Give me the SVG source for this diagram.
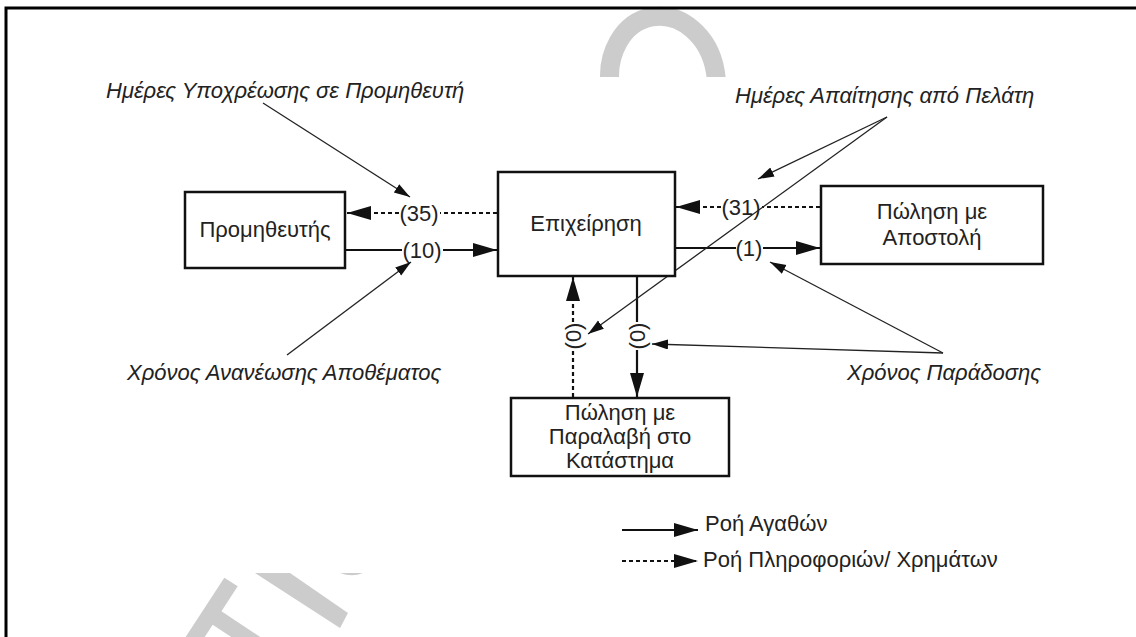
<svg xmlns="http://www.w3.org/2000/svg" width="1136" height="637" viewBox="0 0 1136 637">
<defs>
<style>
.box{fill:#fff;stroke:#111;stroke-width:2.5}
.lbl{font-family:"Liberation Sans",Arial,sans-serif;font-size:22px;fill:#222}
.it{font-style:italic}
.solid{stroke:#111;stroke-width:2.2;fill:none}
.dash{stroke:#111;stroke-width:2.2;fill:none;stroke-dasharray:4 3}
.note{stroke:#222;stroke-width:1.3;fill:none}
.wm{fill:#cccccc;stroke:none}
</style>
<marker id="big" markerUnits="userSpaceOnUse" markerWidth="24" markerHeight="16" refX="24" refY="7" orient="auto">
<path d="M0,0 L24,7 L0,14 z" fill="#111"/>
</marker>
<marker id="small" markerUnits="userSpaceOnUse" markerWidth="17" markerHeight="12" refX="16" refY="5" orient="auto">
<path d="M0,0 L16,5 L0,10 z" fill="#111"/>
</marker>
<clipPath id="topclip"><rect x="0" y="0" width="1136" height="77"/></clipPath>
</defs>
<rect width="1136" height="637" fill="#fff"/>
<g id="watermark">
<g clip-path="url(#topclip)">
<ellipse cx="663" cy="80" rx="53" ry="64" fill="none" stroke="#cccccc" stroke-width="19" transform="rotate(-10 663 80)"/>
</g>
<line x1="231" y1="582" x2="188" y2="648" stroke="#cccccc" stroke-width="16"/>
<line x1="214" y1="616" x2="270" y2="653" stroke="#cccccc" stroke-width="16"/>
<polygon class="wm" points="255,573 290,573 348,613 340,628"/>
<path class="wm" d="M340,573 L363,573 Q352,577.5 340,573 Z"/>
</g>
<path d="M6,645 L6,8 L1140,8" fill="none" stroke="#000" stroke-width="3"/>
<g id="connectors">
<line class="dash" x1="497" y1="213" x2="440" y2="213"/>
<line class="dash" x1="399" y1="213" x2="347" y2="213" marker-end="url(#big)"/>
<text class="lbl" x="419" y="221" text-anchor="middle">(35)</text>
<line class="solid" x1="346" y1="250" x2="402" y2="250"/>
<line class="solid" x1="443" y1="250" x2="497" y2="250" marker-end="url(#big)"/>
<text class="lbl" x="422" y="258" text-anchor="middle">(10)</text>
<line class="dash" x1="820" y1="207" x2="762" y2="207"/>
<line class="dash" x1="721" y1="207" x2="676" y2="207" marker-end="url(#big)"/>
<text class="lbl" x="741" y="215" text-anchor="middle">(31)</text>
<line class="solid" x1="676" y1="248" x2="736" y2="248"/>
<line class="solid" x1="763" y1="248" x2="820" y2="248" marker-end="url(#big)"/>
<text class="lbl" x="749" y="256" text-anchor="middle">(1)</text>
<line class="dash" x1="573" y1="397" x2="573" y2="350"/>
<line class="dash" x1="573" y1="322" x2="573" y2="277" marker-end="url(#big)"/>
<text class="lbl" x="0" y="0" text-anchor="middle" dominant-baseline="central" transform="translate(573 336) rotate(-90)">(0)</text>
<line class="solid" x1="637" y1="273" x2="637" y2="322"/>
<line class="solid" x1="637" y1="350" x2="637" y2="397" marker-end="url(#big)"/>
<text class="lbl" x="0" y="0" text-anchor="middle" dominant-baseline="central" transform="translate(637 336) rotate(-90)">(0)</text>
<line class="note" x1="263" y1="103" x2="410" y2="197" marker-end="url(#small)"/>
<line class="note" x1="287" y1="355" x2="411" y2="262" marker-end="url(#small)"/>
<line class="note" x1="887" y1="117" x2="758" y2="179" marker-end="url(#small)"/>
<line class="note" x1="887" y1="117" x2="588" y2="334" marker-end="url(#small)"/>
<line class="note" x1="943" y1="353" x2="770" y2="262" marker-end="url(#small)"/>
<line class="note" x1="943" y1="353" x2="652" y2="344" marker-end="url(#small)"/>
</g>
<g id="n-supplier">
<rect class="box" x="185" y="192" width="160" height="76"/>
<text class="lbl" x="265" y="237" text-anchor="middle">Προμηθευτής</text>
</g>
<g id="n-company">
<rect class="box" x="498" y="172" width="177" height="104"/>
<text class="lbl" x="586" y="231" text-anchor="middle">Επιχείρηση</text>
</g>
<g id="n-shipping">
<rect class="box" x="821" y="186" width="222" height="78"/>
<text class="lbl" x="932" y="219" text-anchor="middle">Πώληση με</text>
<text class="lbl" x="932" y="245" text-anchor="middle">Αποστολή</text>
</g>
<g id="n-pickup">
<rect class="box" x="511" y="398" width="218" height="78"/>
<text class="lbl" x="620" y="420" text-anchor="middle">Πώληση με</text>
<text class="lbl" x="620" y="444" text-anchor="middle">Παραλαβή στο</text>
<text class="lbl" x="620" y="468" text-anchor="middle">Κατάστημα</text>
</g>
<g id="annotations">
<text class="lbl it" x="106" y="98">Ημέρες Υποχρέωσης σε Προμηθευτή</text>
<text class="lbl it" x="127" y="380">Χρόνος Ανανέωσης Αποθέματος</text>
<text class="lbl it" x="735" y="103">Ημέρες Απαίτησης από Πελάτη</text>
<text class="lbl it" x="847" y="380">Χρόνος Παράδοσης</text>
</g>
<g id="legend">
<line class="solid" x1="622" y1="530" x2="698" y2="530" marker-end="url(#big)"/>
<text class="lbl" x="705" y="531">Ροή Αγαθών</text>
<line class="dash" x1="622" y1="561" x2="698" y2="561" marker-end="url(#big)"/>
<text class="lbl" x="703" y="567">Ροή Πληροφοριών/ Χρημάτων</text>
</g>
</svg>
